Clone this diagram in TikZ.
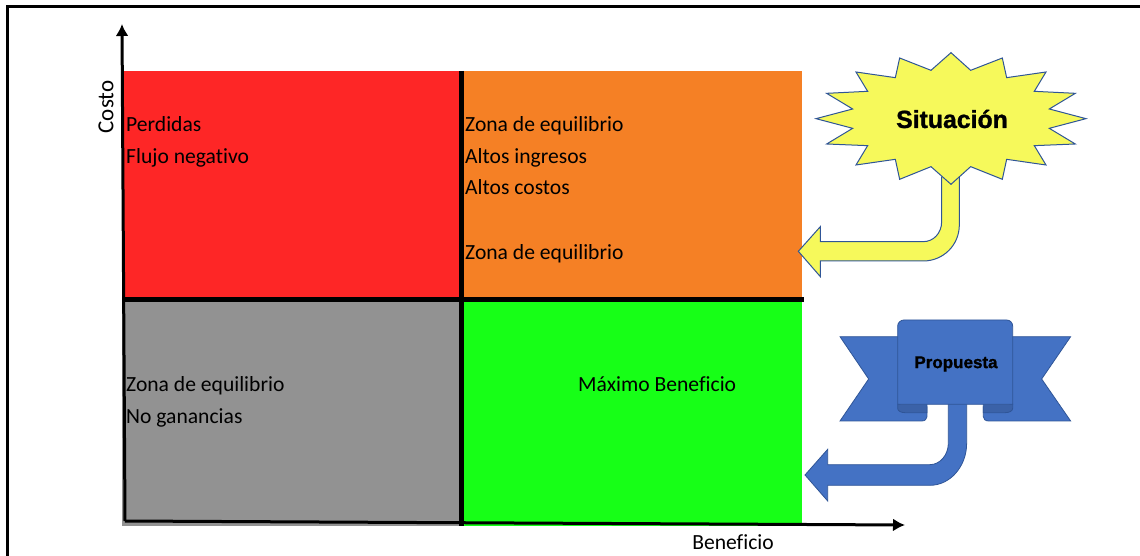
\documentclass[tikz,border=0pt]{standalone}
\usepackage{fontspec}
\setmainfont{Carlito}[Ligatures=NoCommon]
\newfontfamily\heavyfont{Liberation Sans}[BoldFeatures={FakeBold=1.2}]
\usetikzlibrary{arrows.meta}
\definecolor{zred}{HTML}{FE2626}
\definecolor{zorange}{HTML}{F58025}
\definecolor{zgray}{HTML}{929292}
\definecolor{zgreen}{HTML}{17FF17}
\definecolor{zyellow}{HTML}{F6F95B}
\definecolor{zblue}{HTML}{4472C4}
\definecolor{zbluedark}{HTML}{3B62A8}
\definecolor{zedge}{HTML}{2F5597}
\tikzset{
  label/.style={font=\fontsize{21.6}{21.6}\selectfont,anchor=base west,inner sep=0pt,text=black},
  axislabel/.style={font=\fontsize{21.6}{21.6}\selectfont,inner sep=0pt,text=black},
  axisline/.style={line width=3pt,-{Latex[length=12pt,width=13pt]}},
  divider/.style={line width=5pt,black},
  yshape/.style={fill=zyellow,draw=zedge,line width=1pt,line join=miter},
  bshape/.style={fill=zblue,draw=zedge,line width=0.8pt,line join=miter},
}
\begin{document}
\begin{tikzpicture}[x=1pt,y=-1pt]
\useasboundingbox (0,0) rectangle (1140,556);
\fill[white] (0,0) rectangle (1140,556);
% frame
\draw[line width=2.2pt,black] (7.5,556) -- (7.5,6.5) -- (1140,6.5);
% zones
\fill[zred] (122,71) rectangle (462,299);
\fill[zorange] (462,71) rectangle (802,299);
\fill[zgray] (122,299) rectangle (462,526);
\fill[zgreen] (462,299) rectangle (802,526);
% dividers
\coordinate (midtop) at (461.5,71);
\coordinate (midbot) at (461.5,526);
\coordinate (midleft) at (122,299.5);
\coordinate (midright) at (804,299.5);
\draw[divider] (midtop) -- (midbot);
\draw[divider] (midleft) -- (midright);
% axes
\coordinate (org) at (125,521);
\coordinate (ytip) at (122,24);
\coordinate (xtip) at (905,525);
\draw[axisline] (org) -- (ytip);
\draw[axisline] (org) -- (xtip);
% labels
\node[axislabel,font=\fontsize{23}{23}\selectfont,rotate=90] (costo) at (106,107) {Costo};
\node[axislabel] (beneficio) at (733,542) {Beneficio};
\node[label] (t1) at (126,132) {Perdidas};
\node[label] (t2) at (126,164) {Flujo negativo};
\node[label] (t3) at (465,132) {Zona de equilibrio};
\node[label] (t4) at (465,164) {Altos ingresos};
\node[label] (t5) at (465,195) {Altos costos};
\node[label] (t6) at (465,259) {Zona de equilibrio};
\node[label] (t7) at (126,391) {Zona de equilibrio};
\node[label] (t8) at (126,423) {No ganancias};
\node[label] (t9) at (578,391) {Máximo Beneficio};
% yellow shapes
\begin{scope}[shift={(790,30)},x=0.3333pt,y=-0.3333pt]
\draw[yshape] (455,440) -- (455,575) .. controls (455,610) and (430,635) .. (400,635)
  -- (91,635) -- (91,590) -- (25,664) -- (91,740) -- (91,693) -- (400,693)
  .. controls (460,693) and (508,645) .. (508,585) -- (508,440);
\draw[yshape] (483,68) -- (542,121) -- (637,84) -- (650,143) -- (768,126) -- (733,184)
  -- (856,190) -- (778,237) -- (888,266) -- (778,295) -- (856,342) -- (733,347)
  -- (768,405) -- (650,388) -- (637,448) -- (542,410) -- (483,463) -- (423,410)
  -- (329,448) -- (316,388) -- (198,405) -- (233,347) -- (110,342) -- (188,295)
  -- (78,266) -- (188,237) -- (110,190) -- (233,184) -- (198,126) -- (316,143)
  -- (329,84) -- (423,121) -- cycle;
\end{scope}
\node[font=\heavyfont\bfseries\fontsize{24.8}{24.8}\selectfont,inner sep=0pt] (sit) at (952,119) {Situación};
% blue shapes
\begin{scope}[shift={(790,300)},x=0.3333pt,y=-0.3333pt]
\draw[bshape] (475,310) -- (475,430) .. controls (475,465) and (450,494) .. (420,494)
  -- (113,494) -- (113,448) -- (45,525) -- (113,603) -- (113,556) -- (420,556)
  .. controls (480,556) and (530,500) .. (530,430) -- (530,310);
% tails
\draw[bshape] (330,110) -- (150,110) -- (236,237) -- (150,363) -- (395,363)
  .. controls (405,363) and (411,357) .. (411,350) -- (411,320) -- (330,320) -- cycle;
\draw[bshape] (660,110) -- (842,110) -- (755,237) -- (842,363) -- (596,363)
  .. controls (586,363) and (580,357) .. (580,350) -- (580,320) -- (660,320) -- cycle;
% folds
\draw[bshape,fill=zbluedark] (323,313) -- (323,325) .. controls (323,333) and (333,338) .. (345,338)
  -- (411,338) -- (411,313) -- cycle;
\draw[bshape,fill=zbluedark] (668,313) -- (668,325) .. controls (668,333) and (658,338) .. (646,338)
  -- (580,338) -- (580,313) -- cycle;
% front
\draw[bshape] (323,313) -- (323,78) .. controls (323,68) and (332,60) .. (342,60)
  -- (650,60) .. controls (660,60) and (668,68) .. (668,78) -- (668,313) -- cycle;
\end{scope}
\node[font=\heavyfont\bfseries\fontsize{17}{17}\selectfont,inner sep=0pt] (prop) at (956,364) {Propuesta};
\end{tikzpicture}
\end{document}
